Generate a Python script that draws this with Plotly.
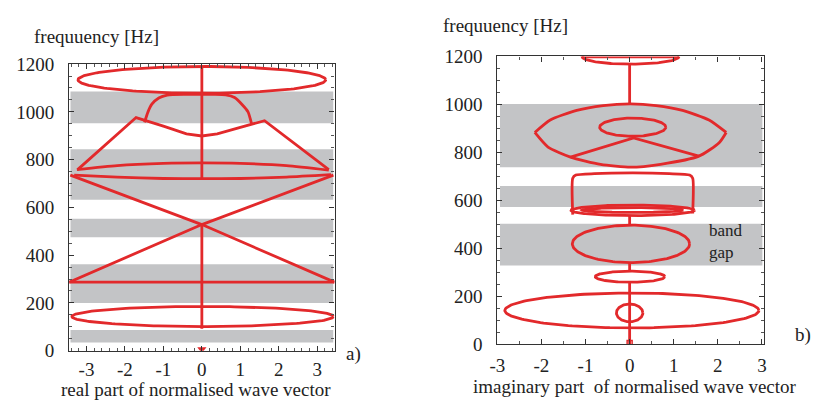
import numpy as np
import plotly.graph_objects as go

W, H = 818, 411
RED = "#e2292b"
GRAY = "#c3c4c6"
FONT = "Liberation Serif"

# ---------------- Panel a: real part ----------------
x_ticks = [-3, -2, -1, 0, 1, 2, 3]
x_ticktext = ["-3", "-2", "-1", "0", "1", "2", "3"]
y_ticks = [0, 200, 400, 600, 800, 1000, 1200]

bands_a_low = [34, 200, 475, 632, 952]
bands_a_high = [86, 362, 552, 843, 1085]

# ellipses (centre x, centre y, half-width, half-height)
ell_a_cx = [0.0, 0.02]
ell_a_cy = [1134, 143]
ell_a_rx = [3.22, 3.40]
ell_a_ry = [56, 42]

dome_x = [-1.49, -1.40, -1.30, -1.12, -0.90, -0.40, 0.30, 0.62, 0.85, 1.05, 1.20, 1.29]
dome_y = [956, 1000, 1032, 1058, 1070, 1073, 1073, 1071, 1060, 1030, 1000, 952]

trap_x = [-3.23, -1.71, -1.00, -0.40, 0.00, 0.40, 1.00, 1.63, 3.30]
trap_y = [758, 976, 940, 908, 899, 908, 935, 963, 758]

lens_top_x = [-3.25, -2.20, -1.00, 0.00, 1.00, 2.20, 3.30]
lens_top_y = [758, 775, 784, 786, 784, 775, 756]
lens_bot_x = [-3.32, -2.20, -1.00, 0.00, 1.00, 2.20, 3.36]
lens_bot_y = [735, 727, 721, 720, 721, 727, 737]

cross1_x = [-3.42, 0.0, 3.45]
cross1_y = [735, 528, 287]
cross2_x = [-3.45, 0.0, 3.42]
cross2_y = [287, 528, 735]

hline_a_x = [-3.45, 3.45]
hline_a_y = [287, 287]

vert_a_y0 = [1190, 528]
vert_a_y1 = [720, 92]

# ---------------- Panel b: imaginary part ----------------
bands_b_low = [328, 572, 738]
bands_b_high = [502, 660, 1002]

ell_b_cx = [0.02, 0.07, 0.07, 0.07, 0.03, 0.01, 0.05, 0.00]
ell_b_cy = [1200, 905, 558, 559, 418, 281, 140, 130]
ell_b_rx = [1.10, 0.75, 1.40, 1.15, 1.33, 0.79, 2.88, 0.30]
ell_b_ry = [32, 38, 22, 10, 78, 23, 73, 37]

top_cap_x = [-1.08, 1.12]
top_cap_y = [1199, 1199]

big_up_x = [-2.15, -1.80, -1.20, -0.60, 0.02, 0.60, 1.20, 1.80, 2.19]
big_up_y = [883, 935, 975, 995, 1002, 995, 975, 935, 883]
big_lo_x = [-2.15, -1.85, -1.34, -0.66, 0.02, 0.70, 1.57, 2.03, 2.19]
big_lo_y = [883, 822, 780, 750, 738, 750, 784, 840, 883]

vee_x = [-1.34, 0.09, 1.57]
vee_y = [780, 860, 784]

rect_x = [-1.29, -1.29, -1.22, -0.80, 0.07, 0.90, 1.36, 1.43, 1.43]
rect_y = [540, 692, 705, 711, 714, 711, 705, 692, 545]

vert_b_y0 = [1168, 536, 340, 258]
vert_b_y1 = [1002, 496, 304, 0]


def ellipse(cx, cy, rx, ry):
    t = np.linspace(0, 2 * np.pi, 181)
    return cx + rx * np.cos(t), cy + ry * np.sin(t)


fig = go.Figure()


def line(x, y, xa, ya, spline=False):
    fig.add_trace(go.Scatter(
        x=list(x), y=list(y), mode="lines", xaxis=xa, yaxis=ya,
        line=dict(color=RED, width=2.8, shape="spline" if spline else "linear",
                  smoothing=0.6),
        hoverinfo="skip", showlegend=False))


# panel a traces
for cx, cy, rx, ry in zip(ell_a_cx, ell_a_cy, ell_a_rx, ell_a_ry):
    ex, ey = ellipse(cx, cy, rx, ry)
    line(ex, ey, "x", "y")
line(dome_x, dome_y, "x", "y", spline=True)
line(trap_x, trap_y, "x", "y")
line(lens_top_x, lens_top_y, "x", "y", spline=True)
line(lens_bot_x, lens_bot_y, "x", "y", spline=True)
line(cross1_x, cross1_y, "x", "y")
line(cross2_x, cross2_y, "x", "y")
line(hline_a_x, hline_a_y, "x", "y")
for a, b in zip(vert_a_y0, vert_a_y1):
    line([0, 0], [a, b], "x", "y")
fig.add_trace(go.Scatter(x=[0], y=[6], mode="markers", xaxis="x", yaxis="y",
                         marker=dict(symbol="triangle-down", size=8, color=RED),
                         hoverinfo="skip", showlegend=False))

# panel b traces
for cx, cy, rx, ry in zip(ell_b_cx, ell_b_cy, ell_b_rx, ell_b_ry):
    ex, ey = ellipse(cx, cy, rx, ry)
    line(ex, ey, "x2", "y2")
line(top_cap_x, top_cap_y, "x2", "y2")
line(big_up_x, big_up_y, "x2", "y2", spline=True)
line(big_lo_x, big_lo_y, "x2", "y2", spline=True)
line(vee_x, vee_y, "x2", "y2")
line(rect_x, rect_y, "x2", "y2", spline=True)
for a, b in zip(vert_b_y0, vert_b_y1):
    line([0, 0], [a, b], "x2", "y2")
fig.add_trace(go.Scatter(x=[0], y=[4], mode="markers", xaxis="x2", yaxis="y2",
                         marker=dict(symbol="square-open", size=5, color=RED,
                                     line=dict(width=1.5, color=RED)),
                         hoverinfo="skip", showlegend=False))

shapes = []
for lo, hi in zip(bands_a_low, bands_a_high):
    shapes.append(dict(type="rect", xref="x domain", yref="y", x0=0.005, x1=0.995,
                       y0=lo, y1=hi, fillcolor=GRAY, line=dict(width=0), layer="below"))
for lo, hi in zip(bands_b_low, bands_b_high):
    shapes.append(dict(type="rect", xref="x2 domain", yref="y2", x0=0.01, x1=0.995,
                       y0=lo, y1=hi, fillcolor=GRAY, line=dict(width=0), layer="below"))

tickfont = dict(family=FONT, size=19, color="#222")
common = dict(showgrid=False, zeroline=False, showline=True, linecolor="#333",
              linewidth=1.2, mirror="ticks", ticks="inside", ticklen=5,
              tickcolor="#333", tickfont=tickfont)

fig.update_layout(
    width=W, height=H, margin=dict(l=0, r=0, t=0, b=0),
    paper_bgcolor="white", plot_bgcolor="white", showlegend=False,
    font=dict(family=FONT),
    shapes=shapes,
    xaxis=dict(domain=[62 / W, 331 / W], range=[-3.45, 3.45], anchor="y",
               tickvals=x_ticks, ticktext=x_ticktext, ticklabelstandoff=1,
               minor=dict(dtick=0.2, ticks="inside", ticklen=3, tickcolor="#555"),
               **common),
    yaxis=dict(domain=[(H - 359) / H, (H - 57) / H], range=[0, 1200], anchor="x",
               tickvals=y_ticks, ticklabelstandoff=10,
               minor=dict(dtick=50, ticks="inside", ticklen=3, tickcolor="#555"),
               **common),
    xaxis2=dict(domain=[496 / W, 766 / W], range=[-3.0, 3.04], anchor="y2",
                tickvals=x_ticks, ticktext=x_ticktext, ticklabelstandoff=4,
                minor=dict(dtick=0.5, ticks="inside", ticklen=3, tickcolor="#555"),
                **common),
    yaxis2=dict(domain=[(H - 352) / H, (H - 49) / H], range=[0, 1200], anchor="x2",
                tickvals=y_ticks, ticklabelstandoff=10,
                minor=dict(dtick=50, ticks="inside", ticklen=3, tickcolor="#555"),
                **common),
)


def note(text, xpx, ypx, size=19, xanchor="center"):
    fig.add_annotation(text=text, x=xpx / W, y=1 - ypx / H, xref="paper", yref="paper",
                       xanchor=xanchor, yanchor="middle", showarrow=False, align="left",
                       font=dict(family=FONT, size=size, color="#222"))


note("frequuency [Hz]", 90, 28)
note("frequuency [Hz]", 504, 16)
note("real part of normalised wave vector", 191, 400)
note("imaginary part\u00a0 of normalised wave vector", 636, 397)
note("a)", 350, 363)
note("b)", 806, 343)
note("band<br>gap", 709, 244, size=17, xanchor="left")

fig.write_html("out.html")
